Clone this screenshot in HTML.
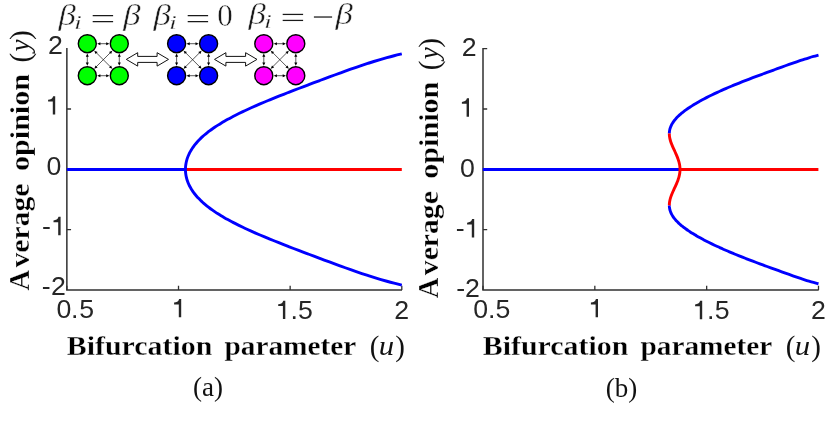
<!DOCTYPE html>
<html><head><meta charset="utf-8"><title>Bifurcation diagrams</title>
<style>
html,body{margin:0;padding:0;background:#fff;}
body{width:832px;height:426px;overflow:hidden;font-family:"Liberation Sans",sans-serif;}
svg{display:block;will-change:transform;transform:translateZ(0);}
.tk{font-family:"Liberation Sans",sans-serif;font-size:26.7px;fill:#262626;}
.bf{font-family:"Liberation Serif",serif;font-weight:bold;font-size:27.5px;fill:#000;stroke:#fff;stroke-width:0.3px;}
.mt{font-family:"Liberation Serif",serif;font-size:27px;fill:#111;}
.it{font-style:italic;}
.pr{font-family:"Liberation Serif",serif;font-size:29px;fill:#111;}
.cap{font-family:"Liberation Serif",serif;font-size:27px;fill:#111;}
.ann{font-family:"Liberation Serif",serif;font-size:30px;fill:#1a1a1a;stroke:#fff;stroke-width:0.4px;}
.sub{font-family:"Liberation Serif",serif;font-size:19.5px;font-style:italic;fill:#1a1a1a;stroke:#fff;stroke-width:0.3px;}
</style></head><body>
<svg width="832" height="426" viewBox="0 0 832 426">
<rect width="832" height="426" fill="#fff"/>
<g id="plotA">
<path d="M66.86 48.00 V290.00 H402.00" fill="none" stroke="#303030" stroke-width="1.5"/><path d="M66.86 290.00 v-4.20 M178.51 290.00 v-4.20 M290.15 290.00 v-4.20 M401.80 290.00 v-4.20 M66.86 109.00 h4.20 M66.86 169.30 h4.20 M66.86 229.60 h4.20" fill="none" stroke="#303030" stroke-width="1.3"/><text x="47.91" y="54.15" class="tk">2</text><path transform="translate(48.10,114.50)" d="M7.10 0 H4.70 V-12.95 H0 V-14.75 C2.4 -14.85 4.3 -15.7 5.05 -18.35 H7.10 Z" fill="#262626"/><text x="46.41" y="174.90" class="tk">0</text><text x="42.06" y="235.20" class="tk">-</text><path transform="translate(53.50,235.20)" d="M7.10 0 H4.70 V-12.95 H0 V-14.75 C2.4 -14.85 4.3 -15.7 5.05 -18.35 H7.10 Z" fill="#262626"/><text x="41.86" y="295.20" class="tk">-</text><text x="51.01" y="295.20" class="tk">2</text><text x="56.51" y="318.30" class="tk">0</text><text x="71.11" y="318.30" class="tk">.</text><text x="79.18" y="318.30" class="tk">5</text><path transform="translate(174.10,317.35)" d="M7.10 0 H4.70 V-12.95 H0 V-14.75 C2.4 -14.85 4.3 -15.7 5.05 -18.35 H7.10 Z" fill="#262626"/><path transform="translate(278.20,319.00)" d="M7.10 0 H4.70 V-12.95 H0 V-14.75 C2.4 -14.85 4.3 -15.7 5.05 -18.35 H7.10 Z" fill="#262626"/><text x="290.61" y="319.00" class="tk">.</text><text x="298.08" y="319.00" class="tk">5</text><text x="394.31" y="319.10" class="tk">2</text><path d="M66.86 169.45 H185.6" stroke="#0000ff" stroke-width="2.9" fill="none"/>
<path d="M185.2 169.45 H401.8" stroke="#ff0000" stroke-width="2.9" fill="none"/>
<path d="M401.80 285.10 C400.51 284.78 396.56 283.81 394.08 283.17 C391.59 282.53 389.21 281.89 386.89 281.24 C384.57 280.60 382.34 279.96 380.15 279.32 C377.97 278.67 375.85 278.03 373.78 277.39 C371.70 276.75 369.69 276.10 367.70 275.46 C365.71 274.82 363.77 274.18 361.85 273.53 C359.93 272.89 358.05 272.25 356.19 271.61 C354.32 270.96 352.49 270.32 350.67 269.68 C348.84 269.04 347.04 268.39 345.25 267.75 C343.46 267.11 341.69 266.47 339.92 265.82 C338.16 265.18 336.40 264.54 334.65 263.90 C332.90 263.25 331.16 262.61 329.43 261.97 C327.69 261.33 325.96 260.68 324.24 260.04 C322.51 259.40 320.79 258.76 319.07 258.11 C317.35 257.47 315.64 256.83 313.93 256.19 C312.22 255.54 310.51 254.90 308.81 254.26 C307.11 253.62 305.41 252.97 303.72 252.33 C302.03 251.69 300.34 251.05 298.65 250.40 C296.97 249.76 295.29 249.12 293.62 248.48 C291.95 247.83 290.29 247.19 288.63 246.55 C286.98 245.91 285.33 245.26 283.69 244.62 C282.06 243.98 280.43 243.34 278.81 242.69 C277.20 242.05 275.59 241.41 274.00 240.77 C272.40 240.12 270.82 239.48 269.25 238.84 C267.69 238.20 266.13 237.55 264.60 236.91 C263.06 236.27 261.54 235.63 260.03 234.98 C258.53 234.34 257.04 233.70 255.57 233.06 C254.10 232.41 252.65 231.77 251.22 231.13 C249.79 230.49 248.37 229.84 246.98 229.20 C245.59 228.56 244.22 227.92 242.87 227.27 C241.52 226.63 240.19 225.99 238.89 225.35 C237.58 224.70 236.30 224.06 235.04 223.42 C233.78 222.78 232.55 222.13 231.34 221.49 C230.12 220.85 228.94 220.21 227.77 219.56 C226.61 218.92 225.47 218.28 224.36 217.64 C223.25 216.99 222.16 216.35 221.10 215.71 C220.04 215.07 219.00 214.42 217.99 213.78 C216.98 213.14 215.99 212.50 215.03 211.85 C214.07 211.21 213.13 210.57 212.22 209.93 C211.31 209.28 210.43 208.64 209.57 208.00 C208.71 207.36 207.88 206.71 207.07 206.07 C206.26 205.43 205.48 204.79 204.72 204.14 C203.97 203.50 203.23 202.86 202.53 202.22 C201.82 201.57 201.13 200.93 200.47 200.29 C199.81 199.65 199.18 199.00 198.57 198.36 C197.96 197.72 197.37 197.08 196.80 196.43 C196.24 195.79 195.70 195.15 195.18 194.51 C194.66 193.86 194.16 193.22 193.69 192.58 C193.22 191.94 192.76 191.29 192.33 190.65 C191.90 190.01 191.50 189.37 191.11 188.72 C190.72 188.08 190.36 187.44 190.01 186.80 C189.67 186.15 189.34 185.51 189.04 184.87 C188.73 184.23 188.45 183.58 188.19 182.94 C187.92 182.30 187.68 181.66 187.45 181.01 C187.23 180.37 187.02 179.73 186.84 179.09 C186.65 178.44 186.48 177.80 186.34 177.16 C186.19 176.52 186.06 175.87 185.95 175.23 C185.84 174.59 185.75 173.95 185.67 173.30 C185.60 172.66 185.54 172.02 185.51 171.38 C185.47 170.73 185.45 170.09 185.45 169.45 C185.45 168.81 185.47 168.17 185.51 167.52 C185.54 166.88 185.60 166.24 185.67 165.60 C185.75 164.95 185.84 164.31 185.95 163.67 C186.06 163.03 186.19 162.38 186.34 161.74 C186.48 161.10 186.65 160.46 186.84 159.81 C187.02 159.17 187.23 158.53 187.45 157.89 C187.68 157.24 187.92 156.60 188.19 155.96 C188.45 155.32 188.73 154.67 189.04 154.03 C189.34 153.39 189.67 152.75 190.01 152.10 C190.36 151.46 190.72 150.82 191.11 150.18 C191.50 149.53 191.90 148.89 192.33 148.25 C192.76 147.61 193.22 146.96 193.69 146.32 C194.16 145.68 194.66 145.04 195.18 144.39 C195.70 143.75 196.24 143.11 196.80 142.47 C197.37 141.82 197.96 141.18 198.57 140.54 C199.18 139.90 199.81 139.25 200.47 138.61 C201.13 137.97 201.82 137.33 202.53 136.68 C203.23 136.04 203.97 135.40 204.72 134.76 C205.48 134.11 206.26 133.47 207.07 132.83 C207.88 132.19 208.71 131.54 209.57 130.90 C210.43 130.26 211.31 129.62 212.22 128.97 C213.13 128.33 214.07 127.69 215.03 127.05 C215.99 126.40 216.98 125.76 217.99 125.12 C219.00 124.48 220.04 123.83 221.10 123.19 C222.16 122.55 223.25 121.91 224.36 121.26 C225.47 120.62 226.61 119.98 227.77 119.34 C228.94 118.69 230.12 118.05 231.34 117.41 C232.55 116.77 233.78 116.12 235.04 115.48 C236.30 114.84 237.58 114.20 238.89 113.55 C240.19 112.91 241.52 112.27 242.87 111.63 C244.22 110.98 245.59 110.34 246.98 109.70 C248.37 109.06 249.79 108.41 251.22 107.77 C252.65 107.13 254.10 106.49 255.57 105.84 C257.04 105.20 258.53 104.56 260.03 103.92 C261.54 103.27 263.06 102.63 264.60 101.99 C266.13 101.35 267.69 100.70 269.25 100.06 C270.82 99.42 272.40 98.78 274.00 98.13 C275.59 97.49 277.20 96.85 278.81 96.21 C280.43 95.56 282.06 94.92 283.69 94.28 C285.33 93.64 286.98 92.99 288.63 92.35 C290.29 91.71 291.95 91.07 293.62 90.42 C295.29 89.78 296.97 89.14 298.65 88.50 C300.34 87.85 302.03 87.21 303.72 86.57 C305.41 85.93 307.11 85.28 308.81 84.64 C310.51 84.00 312.22 83.36 313.93 82.71 C315.64 82.07 317.35 81.43 319.07 80.79 C320.79 80.14 322.51 79.50 324.24 78.86 C325.96 78.22 327.69 77.57 329.43 76.93 C331.16 76.29 332.90 75.65 334.65 75.00 C336.40 74.36 338.16 73.72 339.92 73.08 C341.69 72.43 343.46 71.79 345.25 71.15 C347.04 70.51 348.84 69.86 350.67 69.22 C352.49 68.58 354.32 67.94 356.19 67.29 C358.05 66.65 359.93 66.01 361.85 65.37 C363.77 64.72 365.71 64.08 367.70 63.44 C369.69 62.80 371.70 62.15 373.78 61.51 C375.85 60.87 377.97 60.23 380.15 59.58 C382.34 58.94 384.57 58.30 386.89 57.66 C389.21 57.01 391.59 56.37 394.08 55.73 C396.56 55.09 400.51 54.12 401.80 53.80" stroke="#0000ff" stroke-width="2.9" fill="none" stroke-linejoin="round"/>
<text x="66.80" y="355" class="bf" textLength="145.5" lengthAdjust="spacingAndGlyphs">Bifurcation</text><text x="224.40" y="355" class="bf" textLength="132" lengthAdjust="spacingAndGlyphs">parameter</text><text x="369.70" y="356" class="pr">(</text><text transform="translate(378.76,355.2) scale(1.14,1)" class="mt it">u</text><text x="395.30" y="356" class="pr">)</text><g transform="translate(28.70,290.00) rotate(-90)"><text x="-0.5" y="0" class="bf" style="font-size:28.5px">A</text><text x="22.5" y="0" class="bf" textLength="84" lengthAdjust="spacingAndGlyphs">verage</text><text x="119" y="0" class="bf" textLength="97" lengthAdjust="spacingAndGlyphs">opinion</text><text x="227.40" y="0.8" class="pr">(</text><text x="238.40" y="0" class="mt it">y</text><text x="250.00" y="0.8" class="pr">)</text></g><text x="208" y="396.4" text-anchor="middle" class="cap">(a)</text>
</g>
<g id="icons">
<line x1="99.20" y1="43.70" x2="107.40" y2="43.70" stroke="#111" stroke-width="0.7"/><polygon points="97.20,43.70 100.40,45.20 100.40,42.20" fill="#000"/><polygon points="109.40,43.70 106.20,45.20 106.20,42.20" fill="#000"/>
<line x1="99.20" y1="75.70" x2="107.40" y2="75.70" stroke="#111" stroke-width="0.7"/><polygon points="97.20,75.70 100.40,77.20 100.40,74.20" fill="#000"/><polygon points="109.40,75.70 106.20,77.20 106.20,74.20" fill="#000"/>
<line x1="87.30" y1="55.60" x2="87.30" y2="63.80" stroke="#111" stroke-width="0.7"/><polygon points="87.30,53.60 85.80,56.80 88.80,56.80" fill="#000"/><polygon points="87.30,65.80 85.80,62.60 88.80,62.60" fill="#000"/>
<line x1="119.30" y1="55.60" x2="119.30" y2="63.80" stroke="#111" stroke-width="0.7"/><polygon points="119.30,53.60 117.80,56.80 120.80,56.80" fill="#000"/><polygon points="119.30,65.80 117.80,62.60 120.80,62.60" fill="#000"/>
<line x1="95.71" y1="52.11" x2="110.89" y2="67.29" stroke="#111" stroke-width="0.7"/><polygon points="94.30,50.70 95.50,54.02 97.62,51.90" fill="#000"/><polygon points="112.30,68.70 108.98,67.50 111.10,65.38" fill="#000"/>
<line x1="110.89" y1="52.11" x2="95.71" y2="67.29" stroke="#111" stroke-width="0.7"/><polygon points="112.30,50.70 108.98,51.90 111.10,54.02" fill="#000"/><polygon points="94.30,68.70 95.50,65.38 97.62,67.50" fill="#000"/>
<circle cx="87.30" cy="43.70" r="9.00" fill="#00ff00" stroke="#000" stroke-width="1.4"/>
<circle cx="119.30" cy="43.70" r="9.00" fill="#00ff00" stroke="#000" stroke-width="1.4"/>
<circle cx="87.30" cy="75.70" r="9.00" fill="#00ff00" stroke="#000" stroke-width="1.4"/>
<circle cx="119.30" cy="75.70" r="9.00" fill="#00ff00" stroke="#000" stroke-width="1.4"/><polygon points="126.30,59.40 137.70,52.70 137.70,56.40 157.10,56.40 157.10,52.70 168.50,59.40 157.10,66.10 157.10,62.40 137.70,62.40 137.70,66.10" fill="#fff" stroke="#111" stroke-width="1"/><line x1="188.50" y1="43.70" x2="196.70" y2="43.70" stroke="#111" stroke-width="0.7"/><polygon points="186.50,43.70 189.70,45.20 189.70,42.20" fill="#000"/><polygon points="198.70,43.70 195.50,45.20 195.50,42.20" fill="#000"/>
<line x1="188.50" y1="75.70" x2="196.70" y2="75.70" stroke="#111" stroke-width="0.7"/><polygon points="186.50,75.70 189.70,77.20 189.70,74.20" fill="#000"/><polygon points="198.70,75.70 195.50,77.20 195.50,74.20" fill="#000"/>
<line x1="176.60" y1="55.60" x2="176.60" y2="63.80" stroke="#111" stroke-width="0.7"/><polygon points="176.60,53.60 175.10,56.80 178.10,56.80" fill="#000"/><polygon points="176.60,65.80 175.10,62.60 178.10,62.60" fill="#000"/>
<line x1="208.60" y1="55.60" x2="208.60" y2="63.80" stroke="#111" stroke-width="0.7"/><polygon points="208.60,53.60 207.10,56.80 210.10,56.80" fill="#000"/><polygon points="208.60,65.80 207.10,62.60 210.10,62.60" fill="#000"/>
<line x1="185.01" y1="52.11" x2="200.19" y2="67.29" stroke="#111" stroke-width="0.7"/><polygon points="183.60,50.70 184.80,54.02 186.92,51.90" fill="#000"/><polygon points="201.60,68.70 198.28,67.50 200.40,65.38" fill="#000"/>
<line x1="200.19" y1="52.11" x2="185.01" y2="67.29" stroke="#111" stroke-width="0.7"/><polygon points="201.60,50.70 198.28,51.90 200.40,54.02" fill="#000"/><polygon points="183.60,68.70 184.80,65.38 186.92,67.50" fill="#000"/>
<circle cx="176.60" cy="43.70" r="9.00" fill="#0000ff" stroke="#000" stroke-width="1.4"/>
<circle cx="208.60" cy="43.70" r="9.00" fill="#0000ff" stroke="#000" stroke-width="1.4"/>
<circle cx="176.60" cy="75.70" r="9.00" fill="#0000ff" stroke="#000" stroke-width="1.4"/>
<circle cx="208.60" cy="75.70" r="9.00" fill="#0000ff" stroke="#000" stroke-width="1.4"/><polygon points="214.50,59.40 225.90,52.70 225.90,56.40 245.60,56.40 245.60,52.70 257.00,59.40 245.60,66.10 245.60,62.40 225.90,62.40 225.90,66.10" fill="#fff" stroke="#111" stroke-width="1"/><line x1="275.70" y1="43.70" x2="283.90" y2="43.70" stroke="#111" stroke-width="0.7"/><polygon points="273.70,43.70 276.90,45.20 276.90,42.20" fill="#000"/><polygon points="285.90,43.70 282.70,45.20 282.70,42.20" fill="#000"/>
<line x1="275.70" y1="75.70" x2="283.90" y2="75.70" stroke="#111" stroke-width="0.7"/><polygon points="273.70,75.70 276.90,77.20 276.90,74.20" fill="#000"/><polygon points="285.90,75.70 282.70,77.20 282.70,74.20" fill="#000"/>
<line x1="263.80" y1="55.60" x2="263.80" y2="63.80" stroke="#111" stroke-width="0.7"/><polygon points="263.80,53.60 262.30,56.80 265.30,56.80" fill="#000"/><polygon points="263.80,65.80 262.30,62.60 265.30,62.60" fill="#000"/>
<line x1="295.80" y1="55.60" x2="295.80" y2="63.80" stroke="#111" stroke-width="0.7"/><polygon points="295.80,53.60 294.30,56.80 297.30,56.80" fill="#000"/><polygon points="295.80,65.80 294.30,62.60 297.30,62.60" fill="#000"/>
<line x1="272.21" y1="52.11" x2="287.39" y2="67.29" stroke="#111" stroke-width="0.7"/><polygon points="270.80,50.70 272.00,54.02 274.12,51.90" fill="#000"/><polygon points="288.80,68.70 285.48,67.50 287.60,65.38" fill="#000"/>
<line x1="287.39" y1="52.11" x2="272.21" y2="67.29" stroke="#111" stroke-width="0.7"/><polygon points="288.80,50.70 285.48,51.90 287.60,54.02" fill="#000"/><polygon points="270.80,68.70 272.00,65.38 274.12,67.50" fill="#000"/>
<circle cx="263.80" cy="43.70" r="9.00" fill="#ff00ff" stroke="#000" stroke-width="1.4"/>
<circle cx="295.80" cy="43.70" r="9.00" fill="#ff00ff" stroke="#000" stroke-width="1.4"/>
<circle cx="263.80" cy="75.70" r="9.00" fill="#ff00ff" stroke="#000" stroke-width="1.4"/>
<circle cx="295.80" cy="75.70" r="9.00" fill="#ff00ff" stroke="#000" stroke-width="1.4"/><text transform="translate(58.40,25.20) scale(1.16,1)" class="ann it">β</text><text transform="translate(74.00,29.40) scale(1.45,1)" class="sub">i</text><rect x="92.70" y="15.00" width="20.4" height="1.25" fill="#1a1a1a"/><rect x="92.70" y="21.00" width="20.4" height="1.25" fill="#1a1a1a"/><text transform="translate(123.30,25.20) scale(1.16,1)" class="ann it">β</text><text transform="translate(153.40,25.20) scale(1.16,1)" class="ann it">β</text><text transform="translate(169.00,29.40) scale(1.45,1)" class="sub">i</text><rect x="187.70" y="15.00" width="20.4" height="1.25" fill="#1a1a1a"/><rect x="187.70" y="21.00" width="20.4" height="1.25" fill="#1a1a1a"/><text x="217.30" y="25.50" class="ann" style="font-size:31px">0</text><text transform="translate(248.40,24.00) scale(1.16,1)" class="ann it">β</text><text transform="translate(264.00,28.20) scale(1.45,1)" class="sub">i</text><rect x="282.70" y="13.80" width="20.4" height="1.25" fill="#1a1a1a"/><rect x="282.70" y="19.80" width="20.4" height="1.25" fill="#1a1a1a"/><rect x="313.90" y="16.40" width="18.2" height="1.25" fill="#1a1a1a"/><text transform="translate(335.40,24.00) scale(1.16,1)" class="ann it">β</text></g>
<g id="plotB">
<path d="M483.00 48.00 V290.00 H818.70" fill="none" stroke="#303030" stroke-width="1.5"/><path d="M483.00 290.00 v-4.20 M594.83 290.00 v-4.20 M706.67 290.00 v-4.20 M818.50 290.00 v-4.20 M483.00 48.70 h4.20 M483.00 109.00 h4.20 M483.00 169.30 h4.20 M483.00 229.60 h4.20" fill="none" stroke="#303030" stroke-width="1.3"/><text x="461.71" y="56.10" class="tk">2</text><path transform="translate(461.90,116.70)" d="M7.10 0 H4.70 V-12.95 H0 V-14.75 C2.4 -14.85 4.3 -15.7 5.05 -18.35 H7.10 Z" fill="#262626"/><text x="460.01" y="177.10" class="tk">0</text><text x="455.86" y="237.40" class="tk">-</text><path transform="translate(467.10,237.40)" d="M7.10 0 H4.70 V-12.95 H0 V-14.75 C2.4 -14.85 4.3 -15.7 5.05 -18.35 H7.10 Z" fill="#262626"/><text x="456.16" y="297.40" class="tk">-</text><text x="465.01" y="297.40" class="tk">2</text><text x="473.21" y="318.20" class="tk">0</text><text x="488.01" y="318.20" class="tk">.</text><text x="495.48" y="318.20" class="tk">5</text><path transform="translate(590.90,317.35)" d="M7.10 0 H4.70 V-12.95 H0 V-14.75 C2.4 -14.85 4.3 -15.7 5.05 -18.35 H7.10 Z" fill="#262626"/><path transform="translate(695.10,319.15)" d="M7.10 0 H4.70 V-12.95 H0 V-14.75 C2.4 -14.85 4.3 -15.7 5.05 -18.35 H7.10 Z" fill="#262626"/><text x="707.11" y="319.15" class="tk">.</text><text x="714.78" y="319.15" class="tk">5</text><text x="811.11" y="319.15" class="tk">2</text><path d="M482.8 169.45 H679.6" stroke="#0000ff" stroke-width="2.9" fill="none"/>
<path d="M679.4 169.45 H818.4" stroke="#ff0000" stroke-width="2.9" fill="none"/>
<path d="M669.33 133.55 C669.34 133.33 669.36 132.66 669.39 132.22 C669.43 131.78 669.48 131.33 669.55 130.89 C669.62 130.45 669.70 130.01 669.80 129.56 C669.90 129.12 670.02 128.68 670.16 128.23 C670.30 127.79 670.45 127.35 670.62 126.90 C670.79 126.46 670.98 126.02 671.19 125.57 C671.40 125.13 671.62 124.69 671.86 124.25 C672.11 123.80 672.37 123.36 672.65 122.92 C672.93 122.47 673.23 122.03 673.54 121.59 C673.86 121.14 674.19 120.70 674.55 120.26 C674.90 119.82 675.27 119.37 675.66 118.93 C676.04 118.49 676.45 118.04 676.87 117.60 C677.30 117.16 677.74 116.71 678.20 116.27 C678.65 115.83 679.13 115.38 679.62 114.94 C680.11 114.50 680.62 114.06 681.15 113.61 C681.67 113.17 682.22 112.73 682.77 112.28 C683.33 111.84 683.91 111.40 684.50 110.95 C685.09 110.51 685.69 110.07 686.31 109.62 C686.93 109.18 687.57 108.74 688.22 108.30 C688.87 107.85 689.54 107.41 690.22 106.97 C690.90 106.52 691.59 106.08 692.30 105.64 C693.01 105.19 693.73 104.75 694.46 104.31 C695.20 103.87 695.95 103.42 696.71 102.98 C697.47 102.54 698.25 102.09 699.04 101.65 C699.83 101.21 700.63 100.76 701.44 100.32 C702.25 99.88 703.08 99.43 703.92 98.99 C704.76 98.55 705.61 98.11 706.47 97.66 C707.34 97.22 708.21 96.78 709.10 96.33 C709.99 95.89 710.89 95.45 711.80 95.00 C712.71 94.56 713.63 94.12 714.56 93.67 C715.50 93.23 716.45 92.79 717.40 92.35 C718.36 91.90 719.33 91.46 720.31 91.02 C721.29 90.57 722.28 90.13 723.28 89.69 C724.29 89.24 725.30 88.80 726.33 88.36 C727.35 87.91 728.39 87.47 729.43 87.03 C730.48 86.59 731.54 86.14 732.60 85.70 C733.67 85.26 734.75 84.81 735.83 84.37 C736.92 83.93 738.02 83.48 739.13 83.04 C740.23 82.60 741.35 82.16 742.47 81.71 C743.60 81.27 744.73 80.83 745.87 80.38 C747.02 79.94 748.17 79.50 749.32 79.05 C750.48 78.61 751.65 78.17 752.82 77.72 C753.99 77.28 755.17 76.84 756.35 76.40 C757.53 75.95 758.72 75.51 759.91 75.07 C761.11 74.62 762.30 74.18 763.51 73.74 C764.71 73.29 765.91 72.85 767.12 72.41 C768.33 71.96 769.54 71.52 770.75 71.08 C771.96 70.64 773.18 70.19 774.40 69.75 C775.61 69.31 776.83 68.86 778.05 68.42 C779.27 67.98 780.49 67.53 781.72 67.09 C782.94 66.65 784.17 66.21 785.40 65.76 C786.63 65.32 787.86 64.88 789.11 64.43 C790.35 63.99 791.60 63.55 792.86 63.10 C794.12 62.66 795.38 62.22 796.67 61.77 C797.96 61.33 799.25 60.89 800.58 60.45 C801.91 60.00 803.26 59.56 804.65 59.12 C806.04 58.67 807.45 58.23 808.93 57.79 C810.41 57.34 811.91 56.90 813.51 56.46 C815.10 56.01 817.67 55.35 818.50 55.13" stroke="#0000ff" stroke-width="2.9" fill="none"/>
<path d="M669.33 205.35 C669.34 205.57 669.36 206.24 669.39 206.68 C669.43 207.12 669.48 207.57 669.55 208.01 C669.62 208.45 669.70 208.89 669.80 209.34 C669.90 209.78 670.02 210.22 670.16 210.67 C670.30 211.11 670.45 211.55 670.62 212.00 C670.79 212.44 670.98 212.88 671.19 213.33 C671.40 213.77 671.62 214.21 671.86 214.65 C672.11 215.10 672.37 215.54 672.65 215.98 C672.93 216.43 673.23 216.87 673.54 217.31 C673.86 217.76 674.19 218.20 674.55 218.64 C674.90 219.08 675.27 219.53 675.66 219.97 C676.04 220.41 676.45 220.86 676.87 221.30 C677.30 221.74 677.74 222.19 678.20 222.63 C678.65 223.07 679.13 223.52 679.62 223.96 C680.11 224.40 680.62 224.84 681.15 225.29 C681.67 225.73 682.22 226.17 682.77 226.62 C683.33 227.06 683.91 227.50 684.50 227.95 C685.09 228.39 685.69 228.83 686.31 229.28 C686.93 229.72 687.57 230.16 688.22 230.60 C688.87 231.05 689.54 231.49 690.22 231.93 C690.90 232.38 691.59 232.82 692.30 233.26 C693.01 233.71 693.73 234.15 694.46 234.59 C695.20 235.03 695.95 235.48 696.71 235.92 C697.47 236.36 698.25 236.81 699.04 237.25 C699.83 237.69 700.63 238.14 701.44 238.58 C702.25 239.02 703.08 239.47 703.92 239.91 C704.76 240.35 705.61 240.79 706.47 241.24 C707.34 241.68 708.21 242.12 709.10 242.57 C709.99 243.01 710.89 243.45 711.80 243.90 C712.71 244.34 713.63 244.78 714.56 245.23 C715.50 245.67 716.45 246.11 717.40 246.55 C718.36 247.00 719.33 247.44 720.31 247.88 C721.29 248.33 722.28 248.77 723.28 249.21 C724.29 249.66 725.30 250.10 726.33 250.54 C727.35 250.99 728.39 251.43 729.43 251.87 C730.48 252.31 731.54 252.76 732.60 253.20 C733.67 253.64 734.75 254.09 735.83 254.53 C736.92 254.97 738.02 255.42 739.13 255.86 C740.23 256.30 741.35 256.74 742.47 257.19 C743.60 257.63 744.73 258.07 745.87 258.52 C747.02 258.96 748.17 259.40 749.32 259.85 C750.48 260.29 751.65 260.73 752.82 261.18 C753.99 261.62 755.17 262.06 756.35 262.50 C757.53 262.95 758.72 263.39 759.91 263.83 C761.11 264.28 762.30 264.72 763.51 265.16 C764.71 265.61 765.91 266.05 767.12 266.49 C768.33 266.94 769.54 267.38 770.75 267.82 C771.96 268.26 773.18 268.71 774.40 269.15 C775.61 269.59 776.83 270.04 778.05 270.48 C779.27 270.92 780.49 271.37 781.72 271.81 C782.94 272.25 784.17 272.69 785.40 273.14 C786.63 273.58 787.86 274.02 789.11 274.47 C790.35 274.91 791.60 275.35 792.86 275.80 C794.12 276.24 795.38 276.68 796.67 277.13 C797.96 277.57 799.25 278.01 800.58 278.45 C801.91 278.90 803.26 279.34 804.65 279.78 C806.04 280.23 807.45 280.67 808.93 281.11 C810.41 281.56 811.91 282.00 813.51 282.44 C815.10 282.89 817.67 283.55 818.50 283.77" stroke="#0000ff" stroke-width="2.9" fill="none"/>
<path d="M669.33 205.35 C669.34 205.05 669.35 204.15 669.39 203.55 C669.44 202.96 669.51 202.36 669.61 201.76 C669.70 201.16 669.82 200.56 669.96 199.96 C670.10 199.37 670.26 198.77 670.44 198.17 C670.62 197.57 670.81 196.97 671.02 196.38 C671.23 195.78 671.46 195.18 671.70 194.58 C671.93 193.98 672.18 193.38 672.44 192.78 C672.69 192.19 672.96 191.59 673.23 190.99 C673.50 190.39 673.78 189.79 674.05 189.19 C674.33 188.60 674.61 188.00 674.88 187.40 C675.16 186.80 675.44 186.20 675.70 185.60 C675.97 185.01 676.24 184.41 676.50 183.81 C676.75 183.21 677.01 182.61 677.24 182.01 C677.48 181.42 677.71 180.82 677.93 180.22 C678.14 179.62 678.34 179.02 678.53 178.42 C678.72 177.83 678.89 177.23 679.05 176.63 C679.20 176.03 679.34 175.43 679.46 174.83 C679.58 174.24 679.68 173.64 679.76 173.04 C679.84 172.44 679.90 171.84 679.94 171.25 C679.98 170.65 680.00 170.05 680.00 169.45 C680.00 168.85 679.98 168.25 679.94 167.65 C679.90 167.06 679.84 166.46 679.76 165.86 C679.68 165.26 679.58 164.66 679.46 164.06 C679.34 163.47 679.20 162.87 679.05 162.27 C678.89 161.67 678.72 161.07 678.53 160.47 C678.34 159.88 678.14 159.28 677.93 158.68 C677.71 158.08 677.48 157.48 677.24 156.88 C677.01 156.29 676.75 155.69 676.50 155.09 C676.24 154.49 675.97 153.89 675.70 153.29 C675.44 152.70 675.16 152.10 674.88 151.50 C674.61 150.90 674.33 150.30 674.05 149.70 C673.78 149.11 673.50 148.51 673.23 147.91 C672.96 147.31 672.69 146.71 672.44 146.11 C672.18 145.52 671.93 144.92 671.70 144.32 C671.46 143.72 671.23 143.12 671.02 142.52 C670.81 141.93 670.62 141.33 670.44 140.73 C670.26 140.13 670.10 139.53 669.96 138.94 C669.82 138.34 669.70 137.74 669.61 137.14 C669.51 136.54 669.44 135.94 669.39 135.34 C669.35 134.75 669.34 133.85 669.33 133.55" stroke="#ff0000" stroke-width="2.9" fill="none"/>
<text x="482.80" y="355" class="bf" textLength="145.5" lengthAdjust="spacingAndGlyphs">Bifurcation</text><text x="640.40" y="355" class="bf" textLength="132" lengthAdjust="spacingAndGlyphs">parameter</text><text x="785.70" y="356" class="pr">(</text><text transform="translate(794.76,355.2) scale(1.14,1)" class="mt it">u</text><text x="811.30" y="356" class="pr">)</text><g transform="translate(438.20,297.70) rotate(-90)"><text x="-0.5" y="0" class="bf" style="font-size:28.5px">A</text><text x="22.5" y="0" class="bf" textLength="84" lengthAdjust="spacingAndGlyphs">verage</text><text x="119" y="0" class="bf" textLength="97" lengthAdjust="spacingAndGlyphs">opinion</text><text x="227.40" y="0.8" class="pr">(</text><text x="238.40" y="0" class="mt it">y</text><text x="250.00" y="0.8" class="pr">)</text></g><text x="621.5" y="396.6" text-anchor="middle" class="cap">(b)</text>
</g>
</svg>
</body></html>
